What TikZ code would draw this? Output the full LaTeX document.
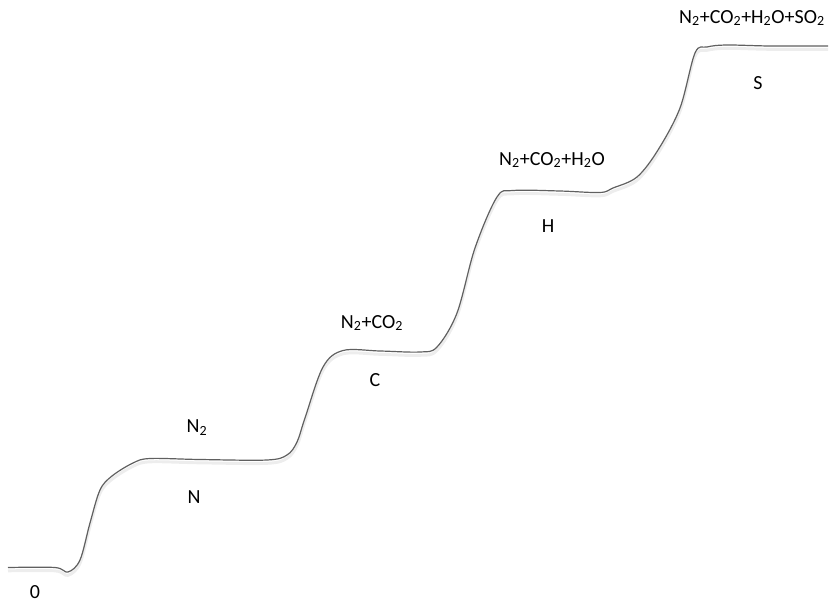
\documentclass[tikz,border=0pt]{standalone}
\usepackage{fontspec}
\setmainfont{Carlito}
\usepackage{tikz}

\begin{document}
\begin{tikzpicture}[x=0.75pt,y=-0.75pt,
  curve/.style={gray!75!black,line width=0.9pt},
  shade/.style={black!7,line width=2.2pt},
  lbl/.style={font=\fontsize{15}{17}\selectfont,inner sep=0pt}]

\useasboundingbox (0,0) rectangle (833,604);

%--------------------
% step curve
%--------------------
\def\steppath{(8,567.5) (55,567.5) (68,572) (80,560) (90,523) (100,490)
  (112,476) (133,463) (150,458.5) (200,459.5) (267,460) (287,455) (297,442)
  (305,418) (323,367) (343,350.5) (380,351) (420,352) (437,347) (457,313)
  (475,248) (497,197) (513,190.5) (560,191) (600,192.5) (613,188) (637,177)
  (658,150) (680,108) (695,53) (707,47) (727,45) (770,46) (828,46)}

% faint shadow under the line
\draw[shade,yshift=-2.5pt] plot[smooth,tension=0.55] coordinates {\steppath};
\draw[curve] plot[smooth,tension=0.55] coordinates {\steppath};

%--------------------
% labels
%--------------------
\node[lbl] (zero) at (35,592) {0};

\node[lbl] (n2) at (197,428) {N\textsubscript{2}};
\node[lbl] (n) at (194,497) {N};

\node[lbl] (c2) at (372,323) {N\textsubscript{2}+CO\textsubscript{2}};
\node[lbl] (c) at (375,380) {C};

\node[lbl] (h2) at (552,160) {N\textsubscript{2}+CO\textsubscript{2}+H\textsubscript{2}O};
\node[lbl] (h) at (548,226) {H};

\node[lbl] (s2) at (752,18) {N\textsubscript{2}+CO\textsubscript{2}+H\textsubscript{2}O+SO\textsubscript{2}};
\node[lbl] (s) at (758,83) {S};

\end{tikzpicture}
\end{document}
